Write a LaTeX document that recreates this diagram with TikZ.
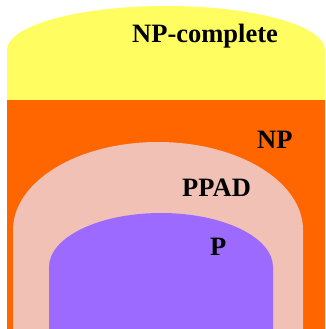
\documentclass[tikz,border=0pt]{standalone}
\usepackage{fontspec}
\setmainfont{Liberation Serif}
\definecolor{npcyellow}{RGB}{255,253,95}
\definecolor{nporange}{RGB}{255,102,0}
\definecolor{ppadpink}{RGB}{241,193,181}
\definecolor{ppurple}{RGB}{157,106,255}
\tikzset{
  lbl/.style={anchor=base west, inner sep=0pt, font=\fontsize{26.5}{30}\selectfont\bfseries, text=black},
}
\begin{document}
\begin{tikzpicture}[x=1pt,y=1pt]
\useasboundingbox (0,0) rectangle (325,-329);
\clip (0,0) rectangle (325,-329);
% NP-complete (yellow)
\fill[npcyellow] (7,-101) -- (7,-50) arc[start angle=180, end angle=0, x radius=159, y radius=44] -- (325,-101) -- cycle;
% NP (orange)
\fill[nporange] (7,-100) rectangle (340,-340);
% PPAD (pink)
\fill[ppadpink] (13,-340) -- (13,-230) arc[start angle=180, end angle=0, x radius=145, y radius=88] -- (303,-340) -- cycle;
% P (purple)
\fill[ppurple] (49,-340) -- (49,-267) arc[start angle=180, end angle=0, x radius=112, y radius=54] -- (273,-340) -- cycle;
% labels
\node[lbl] (npc) at (132,-43) {NP-complete};
\node[lbl] (np) at (257,-148) {NP};
\node[lbl] (ppad) at (182,-196) {PPAD};
\node[lbl] (p) at (210,-255) {P};
\end{tikzpicture}
\end{document}
